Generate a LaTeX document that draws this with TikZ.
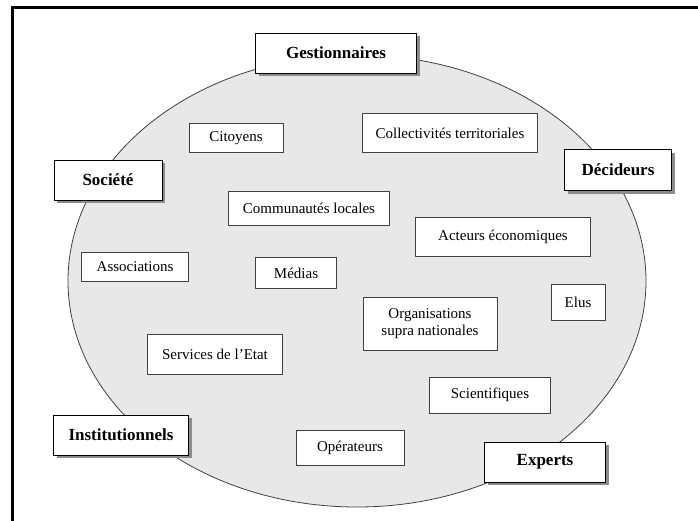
\documentclass[tikz,border=0pt]{standalone}
\usepackage{fontspec}
\setmainfont{Liberation Serif}
\usetikzlibrary{shadows}
\definecolor{ellipse-gray}{gray}{0.91}
\definecolor{line-gray}{gray}{0.25}
\tikzset{
    actor-box/.style = {draw=line-gray, fill=white, line width=0.8pt, rectangle, inner sep=0pt, align=center, font=\fontsize{15}{17}\selectfont},
    group-box/.style = {draw=black, fill=white, line width=0.8pt, rectangle, inner sep=0pt, font=\bfseries\fontsize{17}{19}\selectfont, drop shadow={shadow xshift=3pt, shadow yshift=-3pt, fill=black!45, opacity=1}},
}

\begin{document}
\begin{tikzpicture}[x=1pt, y=-1pt]
\useasboundingbox (0,0) rectangle (698,520);
\clip (0,0) rectangle (698,520);
% cadre
\draw[line width=3pt] (12,7) rectangle (760,580);
% ensemble des acteurs
\draw[line-gray, fill=ellipse-gray, line width=0.8pt] (357,281) ellipse [x radius=289pt, y radius=226pt];

% acteurs
\node[actor-box, minimum width=94pt, minimum height=29pt] (citoyens) at (236,138) {Citoyens};
\node[actor-box, minimum width=175pt, minimum height=39pt] (collectivites) at (450,133) {Collectivités territoriales};
\node[actor-box, minimum width=161pt, minimum height=34pt] (communautes) at (309,208) {Communautés locales};
\node[actor-box, minimum width=175pt, minimum height=39pt] (acteurs) at (503,237) {Acteurs économiques};
\node[actor-box, minimum width=107pt, minimum height=29pt] (associations) at (135,267) {Associations};
\node[actor-box, minimum width=81pt, minimum height=31pt] (medias) at (296,273) {Médias};
\node[actor-box, minimum width=134pt, minimum height=53pt] (organisations) at (430,324) {Organisations\\supra nationales};
\node[actor-box, minimum width=54pt, minimum height=36pt] (elus) at (578,302) {Elus};
\node[actor-box, minimum width=135pt, minimum height=40pt] (services) at (215,354) {Services de l’Etat};
\node[actor-box, minimum width=121pt, minimum height=36pt] (scientifiques) at (490,395) {Scientifiques};
\node[actor-box, minimum width=108pt, minimum height=35pt] (operateurs) at (350,448) {Opérateurs};

% categories
\node[group-box, minimum width=161pt, minimum height=40pt] (gestionnaires) at (336,53) {Gestionnaires};
\node[group-box, minimum width=108pt, minimum height=40pt] (societe) at (108,180) {Société};
\node[group-box, minimum width=107pt, minimum height=41pt] (decideurs) at (618,170) {Décideurs};
\node[group-box, minimum width=135pt, minimum height=40pt] (institutionnels) at (121,435) {Institutionnels};
\node[group-box, minimum width=121pt, minimum height=40pt] (experts) at (545,462) {Experts};
\end{tikzpicture}
\end{document}
